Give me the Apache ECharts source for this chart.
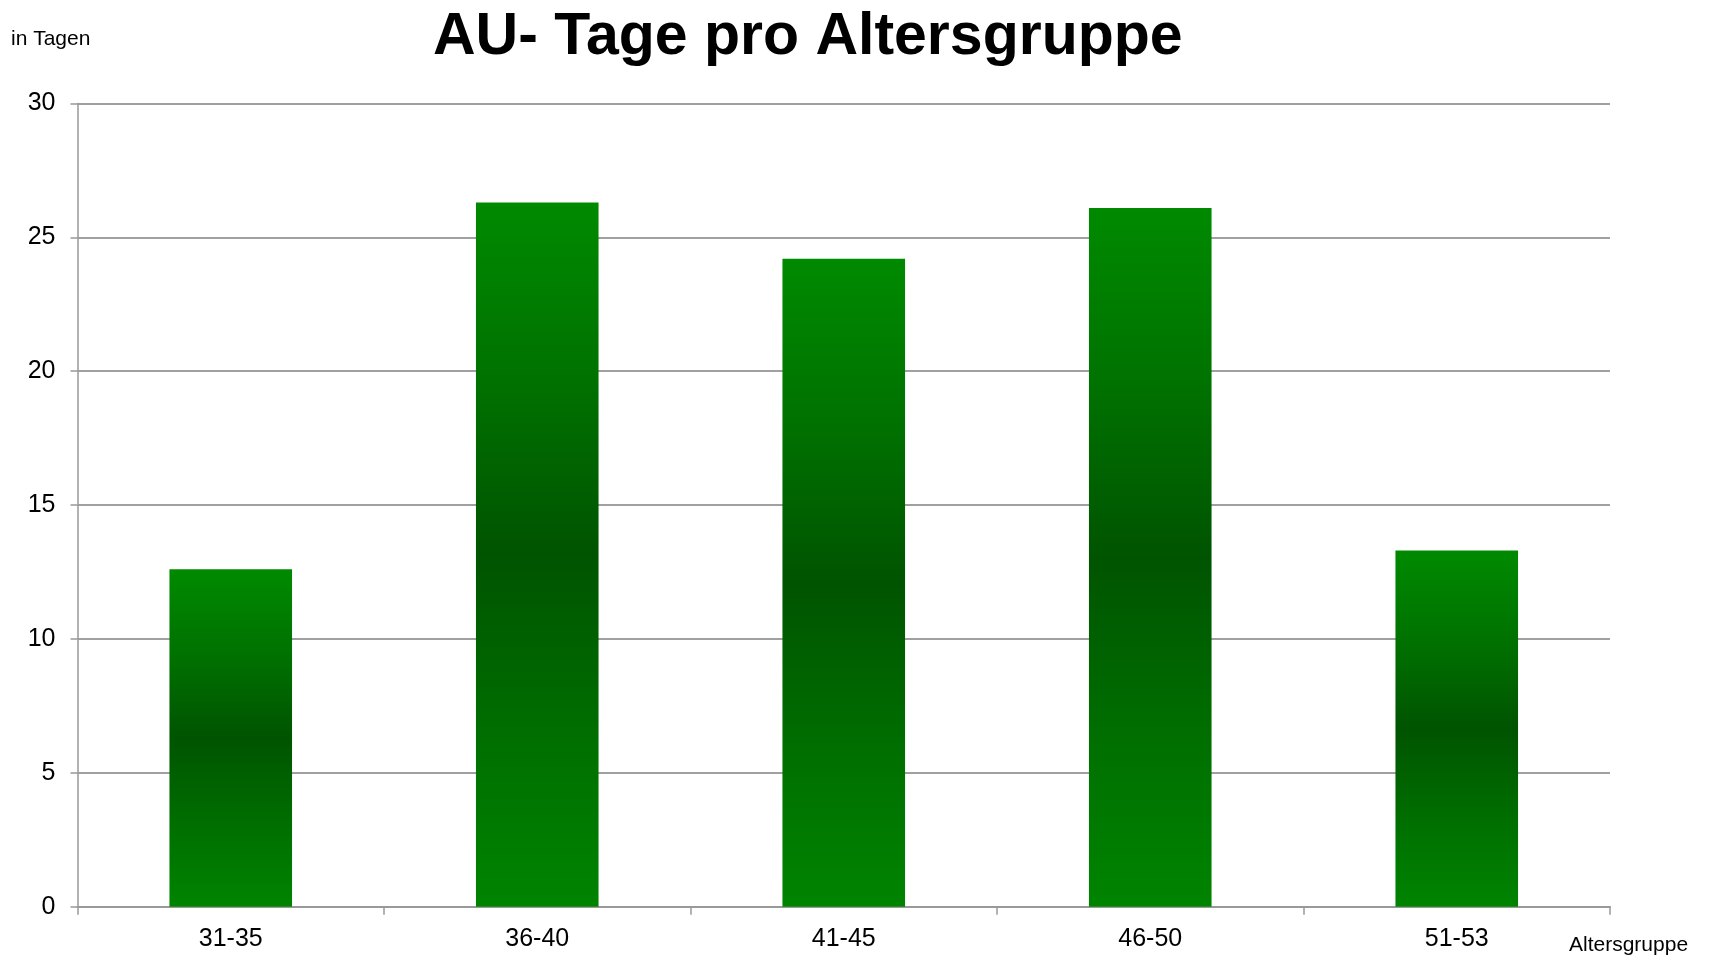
<!DOCTYPE html>
<html>
<head>
<meta charset="utf-8">
<script src="https://cdn.jsdelivr.net/npm/echarts@6/dist/echarts.min.js"></script>
<style>
html,body{margin:0;padding:0;background:#fff;}
#chart{width:1710px;height:958px;}
</style>
</head>
<body>
<div id="chart"></div>
<script>
const categories = ['31-35', '36-40', '41-45', '46-50', '51-53'];
const values = [12.6, 26.3, 24.2, 26.1, 13.3];
const titleText = 'AU- Tage pro Altersgruppe';
const yAxisLabel = 'in Tagen';
const xAxisLabel = 'Altersgruppe';

const chart = echarts.init(document.getElementById('chart'));
const font = '"Liberation Sans", Arial, sans-serif';
const barGradient = new echarts.graphic.LinearGradient(0, 0, 0, 1, [
  { offset: 0, color: '#008a00' },
  { offset: 0.25, color: '#007200' },
  { offset: 0.5, color: '#005400' },
  { offset: 0.75, color: '#006e00' },
  { offset: 1, color: '#008400' }
]);
chart.setOption({
  animation: false,
  backgroundColor: '#fff',
  title: {
    text: titleText,
    left: 433,
    top: 8,
    padding: 0,
    textStyle: { fontFamily: font, fontSize: 59, fontWeight: 'bold', color: '#000' }
  },
  graphic: [
    { type: 'text', left: 11, top: 29, style: { text: yAxisLabel, font: '21px ' + font, fill: '#000' } },
    { type: 'text', left: 1569, top: 935, style: { text: xAxisLabel, font: '21px ' + font, fill: '#000' } }
  ],
  grid: { left: 77.5, right: 100, top: 103.5, bottom: 51.3, containLabel: false },
  xAxis: {
    type: 'category',
    data: categories,
    boundaryGap: true,
    axisLine: { lineStyle: { color: '#999', width: 2 } },
    axisTick: { show: true, length: 8, alignWithLabel: false, lineStyle: { color: '#999', width: 1.5 } },
    axisLabel: { fontFamily: font, fontSize: 25, color: '#000', margin: 20 }
  },
  yAxis: {
    type: 'value',
    min: 0,
    max: 30,
    interval: 5,
    axisLine: { show: true, lineStyle: { color: '#999', width: 1.5 } },
    axisTick: { show: true, length: 7, lineStyle: { color: '#999', width: 1.5 } },
    axisLabel: { fontFamily: font, fontSize: 25, color: '#000', margin: 22 },
    splitLine: { show: true, lineStyle: { color: '#a0a0a0', width: 2 } }
  },
  series: [{
    type: 'bar',
    data: values,
    barWidth: '40%',
    itemStyle: { color: barGradient }
  }]
});
</script>
</body>
</html>
